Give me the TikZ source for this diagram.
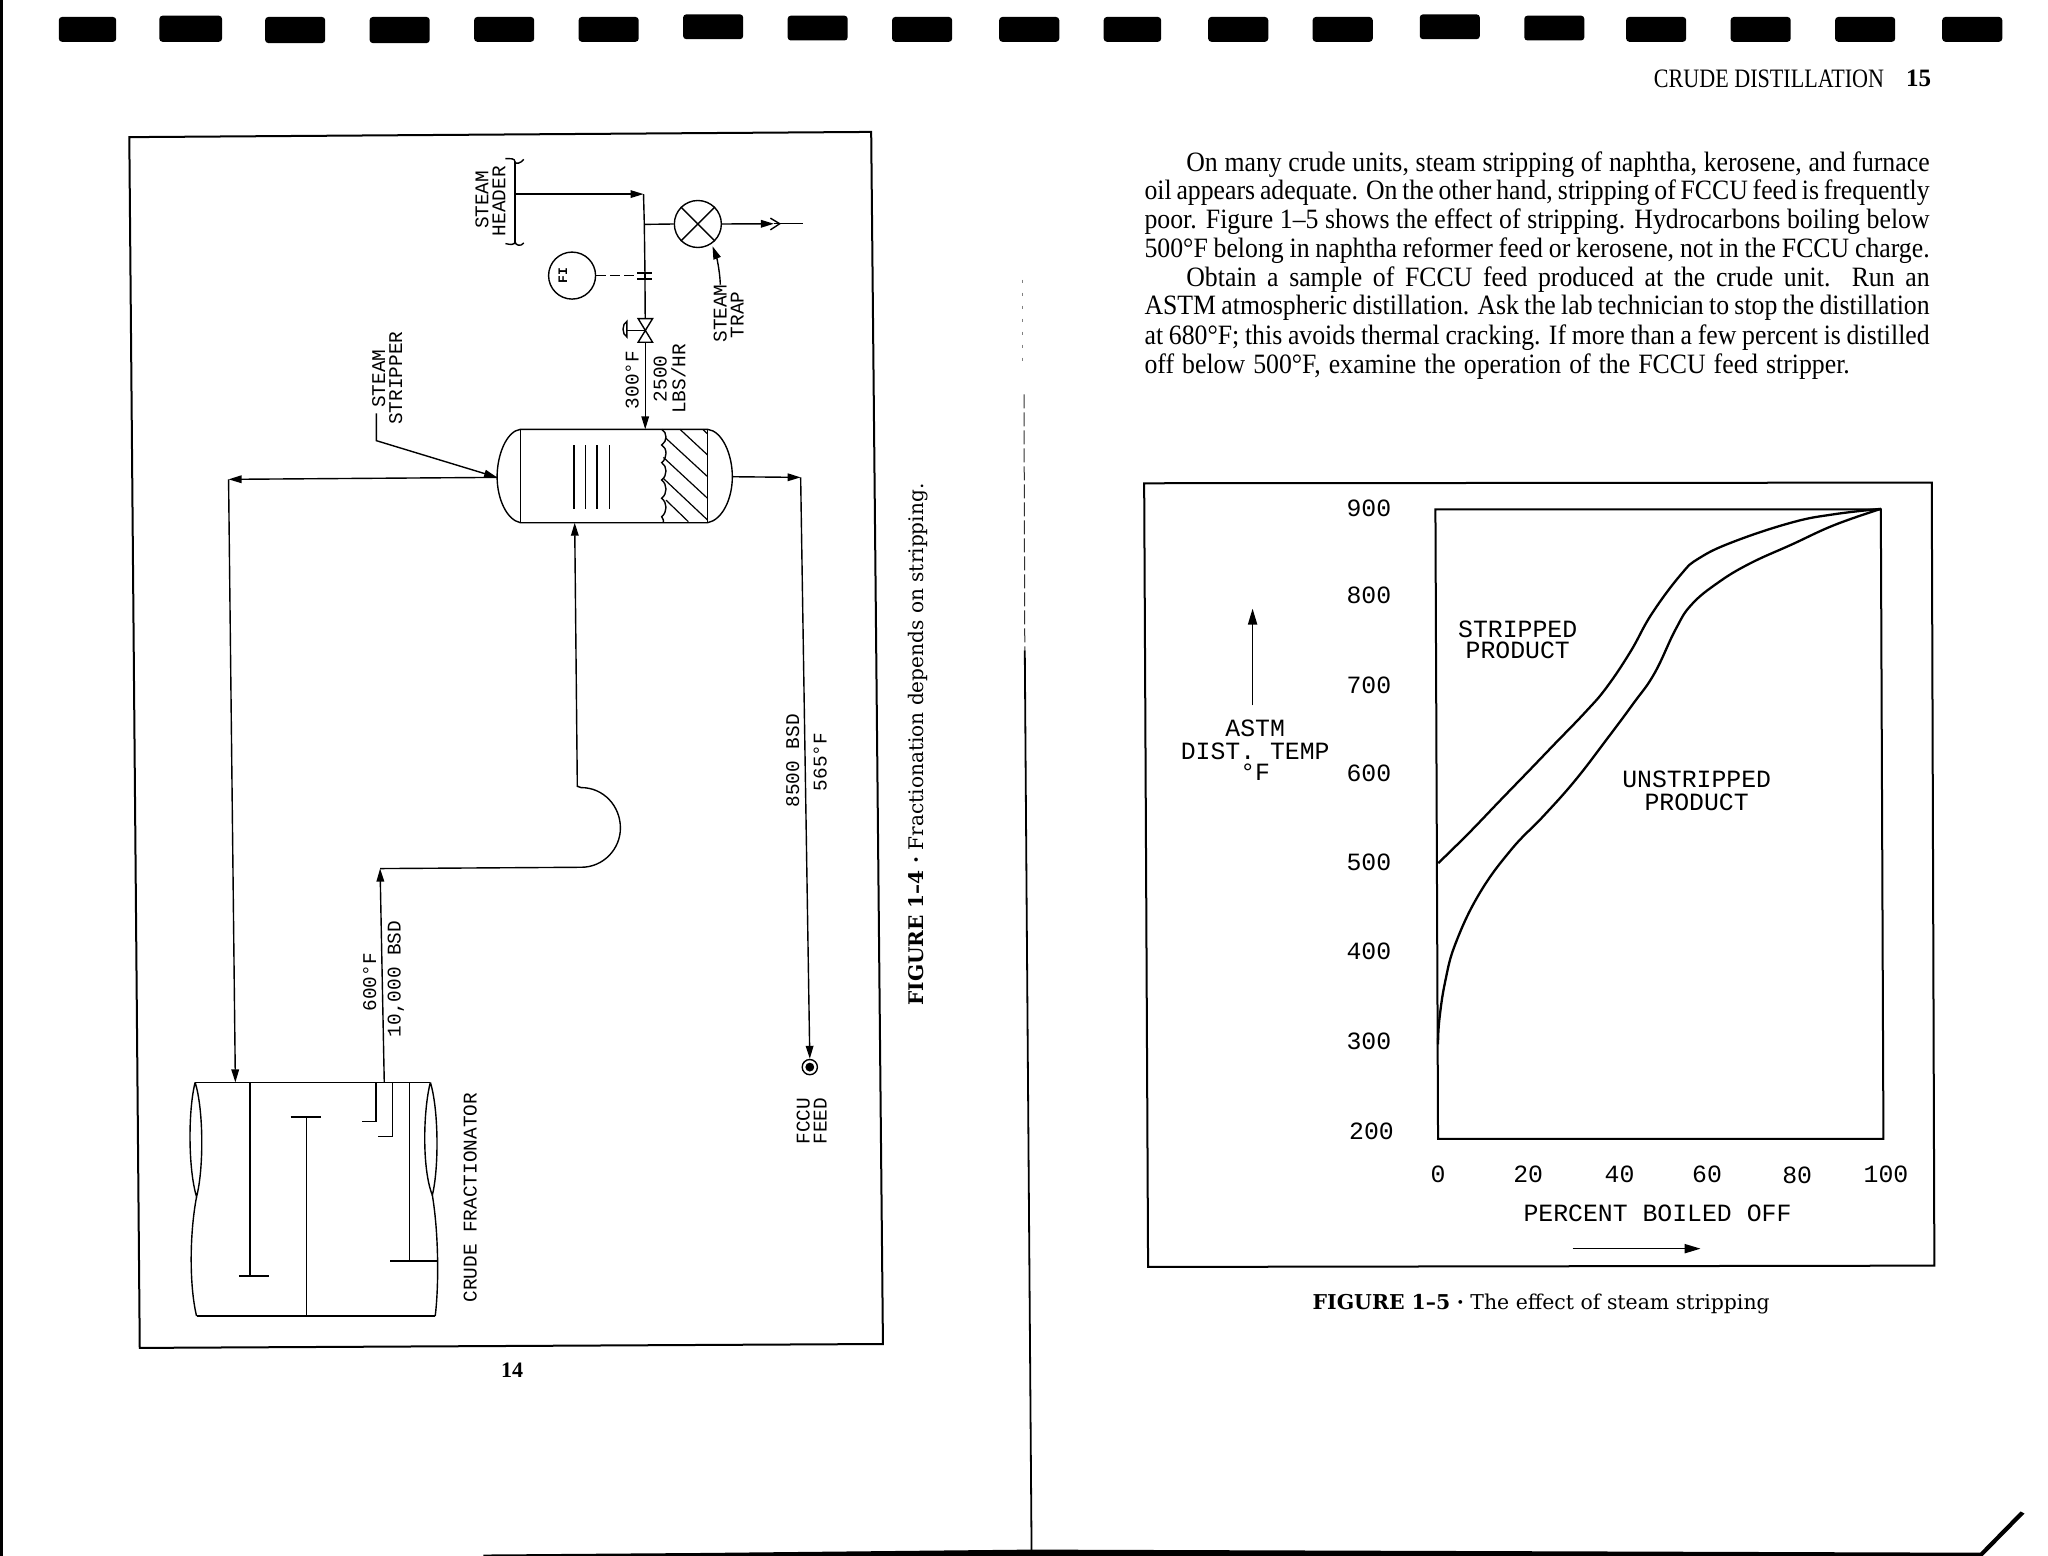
\documentclass[tikz,border=0pt]{standalone}
\usepackage{fontspec}
\usetikzlibrary{arrows.meta}
\setmainfont{Liberation Serif}
\newfontfamily\cad{Liberation Mono}
\newfontfamily\bodyf[FakeStretch=0.92]{Liberation Serif}
\newfontfamily\figfont{DejaVu Serif}
\tikzset{
  pipe/.style={line width=0.7pt},
  heavy/.style={line width=1pt},
  curve/.style={line width=1.15pt,line join=round},
  flow/.style={pipe,-{Triangle[length=6.5pt,width=3.8pt]}},
  bigflow/.style={pipe,-{Triangle[length=8pt,width=4.6pt]}},
  lab/.style={font=\cad\fontsize{9.7}{12}\selectfont,inner sep=0pt,rotate=90},
  plab/.style={font=\cad\fontsize{12.4}{14}\selectfont,inner sep=0pt},
  bodyline/.style={font=\bodyf\fontsize{14}{16}\selectfont,inner sep=0pt,anchor=base west},
  hole/.style={fill=black,rounded corners=1.6pt},
  black band/.style={fill=black},
}
\begin{document}
\begin{tikzpicture}[x=0.653pt,y=-0.653pt]
\useasboundingbox (0,0) rectangle (1568,1191.3);
% page furniture
\fill[black band] (0,0) rectangle (2.6,1191.3);
\foreach \a/\b/\c/\d in {45/89/13/32,122/170/12/32,203/249/13/33,283/329/13/33,363/409/13/32,443/489/13/32,523/569/11/30,603/649/12/31,683/729/13/32,765/811/13/32,845/889/13/32,925/971/13/32,1005/1051/13/32,1087/1133/11/30,1167/1213/12/31,1245/1291/13/32,1325/1371/13/32,1405/1451/13/32,1487/1533/13/32}
  \fill[hole] (\a,\c) rectangle (\b,\d);
\draw[line width=0.4pt,dash pattern=on 1.5pt off 5pt,gray] (783,214) -- (783,281);
\draw[line width=0.5pt,dash pattern=on 7pt off 2pt,black!80] (784,302) -- (784.6,498);
\draw[line width=0.9pt] (784.6,498) -- (786,690) -- (789.8,1188);
\fill[black band] (370,1190.2) -- (537,1189) -- (790,1186.4) -- (1516,1188.8) -- (1547,1157.2) -- (1550,1158.8) -- (1518,1191.3) -- (370,1191.3) -- cycle;

% ---- page 14 figure frame
\draw[heavy,line join=miter] (99,105) -- (667,101) -- (676,1029) -- (107,1032) -- cycle;

% named points
\coordinate (hdrTap) at (394.3,148.6);
\coordinate (hdrCorner) at (492.7,148.6);
\coordinate (branch) at (493.3,171.8);
\coordinate (valveTop) at (494,244);
\coordinate (valveMid) at (494,253);
\coordinate (valveBot) at (494,262);
\coordinate (stripTop) at (494,328.7);
\coordinate (stripLeft) at (380.6,365.5);
\coordinate (stripRight) at (560.7,365);
\coordinate (stripBot) at (440,400.2);
\coordinate (outCorner) at (613,365.5);
\coordinate (retCorner) at (175,367);
\coordinate (fracRet) at (180.2,828.7);
\coordinate (fracOut) at (294.2,828.7);
\coordinate (riseTop) at (291,665);

% stripper
\draw[pipe] (398.4,328.7) -- (541.8,328.7) .. controls (553,330) and (560.7,348) .. (560.7,365) .. controls (560.7,382) and (553,398) .. (541.8,400.2) -- (398.4,400.2) .. controls (388,398) and (380.6,382) .. (380.6,365) .. controls (380.6,348) and (388,330) .. (398.4,328.7) -- cycle;
\draw[pipe] (398.4,328.7) -- (398.4,400.2);
\draw[pipe] (541.8,328.7) -- (541.8,400.2);
\foreach \x in {439.4,448.4,457.2,466.8}
  \draw[pipe] (\x,340.8) -- (\x,390);
\draw[pipe] (506.6,328.7) .. controls (511,331) and (511,338) .. (506.6,340.7)
  .. controls (511,343) and (511,351) .. (506.6,354.2)
  .. controls (511,357) and (511,364) .. (506.6,367.5)
  .. controls (511,371) and (511,378) .. (506.6,381.5)
  .. controls (511,385) and (511,392) .. (506.6,395.6)
  .. controls (508,397) and (508,399) .. (508,400.2);
\draw[line width=0.6pt] (538,328.7) -- (541.8,332.3)
  (520.6,328.7) -- (541.8,348.4)
  (509.9,335.6) -- (541.8,365)
  (507.9,350.2) -- (541.8,381.6)
  (507.9,366.3) -- (541.8,398.2)
  (509.9,382.9) -- (527,399.4);

% steam header brace
\draw[pipe] (394.3,124) -- (394.3,185);
\draw[pipe] (387,121.5) .. controls (391,121.5) and (394.3,121) .. (394.3,124) .. controls (394.5,126) and (399,125) .. (401,122);
\draw[pipe] (387,186.5) .. controls (391,187.5) and (394.3,187.5) .. (394.3,185) .. controls (394.5,188) and (399,189) .. (401,186);
\node[lab] (tSteamH) at (369,153) {STEAM};
\node[lab] (tHeader) at (382,154) {HEADER};

% steam line
\draw[flow] (hdrTap) -- (hdrCorner);
\draw[pipe] (hdrCorner) -- (branch) -- (493.8,208.8);
\draw[pipe] (493.8,213.9) -- (valveTop);
\draw[line width=1pt] (488,208.8) -- (499.5,208.8) (488,213.9) -- (499.5,213.9);
\draw[pipe] (493.8,208.8) -- (493.8,213.9);
% steam trap
\node[draw,pipe,circle,minimum size=23.5pt,inner sep=0pt] (trap) at (534.3,171.5) {};
\draw[pipe] (branch) -- (trap.west);
\draw[pipe] (trap.45) -- (trap.225) (trap.135) -- (trap.315);
\coordinate (trapOut) at (592.5,171.3);
\coordinate (trapEnd) at (615,171.3);
\draw[flow] (trap.east) -- (trapOut);
\draw[pipe] (trapOut) -- (trapEnd);
\draw[pipe] (589.8,167) -- (597,171.3) -- (589.8,176);
\coordinate (trapLead) at (551.5,218);
\draw[flow] (trapLead) .. controls (551,205) and (548,195) .. (545.5,188.5);
\node[lab] (tSteamT) at (551.5,240) {STEAM};
\node[lab] (tTrap) at (564.5,241) {TRAP};
% FI
\node[draw,pipe,circle,minimum size=23.5pt,inner sep=0pt] (fi) at (438,211) {};
\node[font=\cad\bfseries\fontsize{6.5}{8}\selectfont,inner sep=0pt,rotate=90] (tFI) at (431,211) {FI};
\draw[pipe,dash pattern=on 5pt off 2pt] (fi.east) -- (488,211);
% valve
\draw[pipe,line join=miter] (488.6,244) -- (499.6,244) -- (488.6,262) -- (499.6,262) -- cycle;
\draw[pipe] (valveMid) -- (480,253);
\draw[pipe] (480,246) .. controls (476,248) and (476,256) .. (480,258) -- cycle;
\draw[flow] (valveBot) -- (stripTop);
\node[lab] (t300) at (484,291) {300°F};
\node[lab] (t2500) at (505.5,290) {2500};
\node[lab] (tLbs) at (519.5,290) {LBS/HR};

% stripper label
\coordinate (lead1) at (288.2,316.5);
\coordinate (lead2) at (288.2,337.4);
\draw[flow] (lead1) -- (lead2) -- (stripLeft);
\node[lab] (tSteamS) at (290,290) {STEAM};
\node[lab] (tStripper) at (303,289.5) {STRIPPER};

% return to fractionator
\draw[flow] (stripLeft) -- (retCorner);
\draw[flow] (retCorner) -- (fracRet);
% feed rise
\draw[flow] (fracOut) -- (riseTop);
\draw[flow] (riseTop) -- (445,664) .. controls (462,664) and (475,650) .. (475,634) .. controls (475,617) and (462,603) .. (445,603) -- (442,602) -- (stripBot);
\node[lab] (t600) at (283,752) {600°F};
\node[lab] (tBsd) at (303,749.5) {10,000 BSD};
% product
\draw[flow] (stripRight) -- (outCorner);
\node[draw,pipe,circle,minimum size=7.6pt,inner sep=0pt] (fccu) at (620,817) {};
\fill (fccu.center) circle (3.4);
\draw[flow] (outCorner) -- (fccu.north);
\node[lab] (t8500) at (607,582.5) {8500 BSD};
\node[lab] (t565) at (628,583.5) {565°F};
\node[lab] (tFccu) at (615,858.5) {FCCU};
\node[lab] (tFeed) at (628,858.5) {FEED};

% fractionator vessel
\draw[pipe] (149.4,828.7) -- (329.5,828.7);
\draw[pipe] (150.5,1007.6) -- (333.2,1007.6);
\draw[pipe] (149.4,828.7) .. controls (144,850) and (144,895) .. (150.5,916.3)
  .. controls (156,895) and (156,850) .. (149.4,828.7);
\draw[pipe] (150.5,916.3) .. controls (145,945) and (145,985) .. (150.5,1007.6);
\draw[pipe] (329.5,828.7) .. controls (324,850) and (323,895) .. (331,915)
  .. controls (336,895) and (336,850) .. (329.5,828.7);
\draw[pipe] (331,915) .. controls (336,945) and (336,985) .. (333.2,1007.6);
\draw[pipe] (191.4,828.7) -- (191.4,976.8);
\draw[line width=1pt] (182.8,976.8) -- (205.9,976.8);
\draw[pipe] (234.8,1007.6) -- (234.8,855.5);
\draw[line width=1pt] (222.6,855.5) -- (246,855.5);
\draw[pipe] (287.9,828.7) -- (287.9,858.8) -- (277.5,858.8);
\draw[pipe] (300.5,828.7) -- (300.5,870.3) -- (289.7,870.3);
\draw[pipe] (313.5,828.7) -- (313.5,965.3);
\draw[pipe] (298.7,965.3) -- (335,965.3);
\node[lab] (tCrude) at (360,917) {CRUDE FRACTIONATOR};

\node[font=\bfseries\fontsize{11}{13}\selectfont,inner sep=0pt] (p14) at (392,1049) {14};
\node[inner sep=0pt,rotate=90] (cap14) at (703,570) {\resizebox{261pt}{!}{\figfont{\bfseries FIGURE 1–4} {\bfseries ·} Fractionation depends on stripping.}};

% ---- right page
\node[inner sep=0pt,anchor=west] (head) at (1266,60) {\resizebox{115pt}{8.8pt}{CRUDE DISTILLATION}};
\node[font=\bfseries\fontsize{12.5}{14}\selectfont,inner sep=0pt] (p15) at (1469,60) {15};
\node[bodyline] (b1) at (908,131) {\makebox[371.6pt][s]{On many crude units, steam stripping of naphtha, kerosene, and furnace}};
\node[bodyline] (b2) at (876,153) {\makebox[392.5pt][s]{oil appears adequate. On the other hand, stripping of FCCU feed is frequently}};
\node[bodyline] (b3) at (876,175) {\makebox[392.5pt][s]{poor. Figure 1–5 shows the effect of stripping. Hydrocarbons boiling below}};
\node[bodyline] (b4) at (876,197) {\makebox[392.5pt][s]{500°F belong in naphtha reformer feed or kerosene, not in the FCCU charge.}};
\node[bodyline] (b5) at (908,219) {\makebox[371.6pt][s]{Obtain a sample of FCCU feed produced at the crude unit. Run an}};
\node[bodyline] (b6) at (876,241) {\makebox[392.5pt][s]{ASTM atmospheric distillation. Ask the lab technician to stop the distillation}};
\node[bodyline] (b7) at (876,264) {\makebox[392.5pt][s]{at 680°F; this avoids thermal cracking. If more than a few percent is distilled}};
\node[bodyline] (b8) at (876,286) {\makebox[352.6pt][s]{off below 500°F, examine the operation of the FCCU feed stripper.}};

% plot frame and box
\draw[heavy] (876,370) -- (1479,369.5) -- (1481,969) -- (879,970) -- cycle;
\draw[heavy] (1099,390) -- (1440,390) -- (1442,872) -- (1101,872) -- cycle;
\draw[curve] plot[smooth,tension=0.7] coordinates {(1101.2,660.8) (1124.7,637.7) (1149,612.4) (1173.4,587.2) (1189.6,570.3) (1213.9,545.1) (1230.1,526.2) (1248.4,498.8) (1264.6,470) (1286.9,439.9) (1301,427.3) (1327.4,414.7) (1372,400) (1404.4,393.7) (1440,389.6)};
\draw[curve] plot[smooth,tension=0.7] coordinates {(1101,799.6) (1102,780.7) (1106.5,751.3) (1114.6,721.8) (1132.8,683.9) (1157.2,650.3) (1181.5,625) (1205.8,597.7) (1230.1,566.1) (1250.4,538.8) (1266.6,515.7) (1282.8,482) (1295,463) (1315.2,446.2) (1339.6,431.5) (1372,416.8) (1404.4,402) (1440,389.6)};
\foreach \v/\yy/\xx in {900/389/1048,800/456/1048,700/525/1048,600/592/1048,500/660/1048,400/728/1048,300/797/1048,200/866/1050}
  \node[plab] (y\v) at (\xx,\yy) {\v};
\foreach \v/\xx/\yy in {0/1101/899,20/1170/899,40/1240/899,60/1307/899,80/1376/900,100/1444/899}
  \node[plab] (x\v) at (\xx,\yy) {\v};
\node[plab] (tPct) at (1269,929) {PERCENT BOILED OFF};
\node[plab] (tS1) at (1162,482) {STRIPPED};
\node[plab] (tS2) at (1162,498) {PRODUCT};
\node[plab] (tU1) at (1299,597) {UNSTRIPPED};
\node[plab] (tU2) at (1299,614) {PRODUCT};
\node[plab] (tA1) at (961,558) {ASTM};
\node[plab] (tA2) at (961,575) {DIST. TEMP};
\node[plab] (tA3) at (961,591) {°F};
\coordinate (upS) at (959,540);
\coordinate (upE) at (959,466);
\draw[bigflow] (upS) -- (upE);
\coordinate (rtS) at (1204,956);
\coordinate (rtE) at (1302,956);
\draw[bigflow] (rtS) -- (rtE);
\node[inner sep=0pt] (cap15) at (1180,998) {\resizebox{228.5pt}{!}{\figfont{\bfseries FIGURE 1–5} {\bfseries ·} The effect of steam stripping}};
\end{tikzpicture}
\end{document}
